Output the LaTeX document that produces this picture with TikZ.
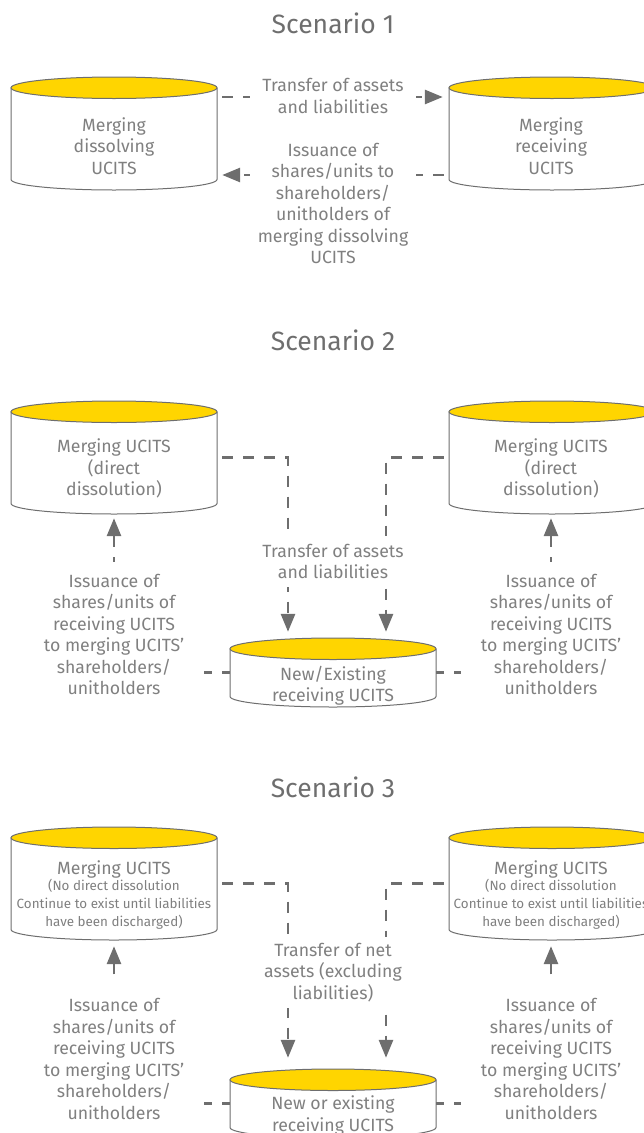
\documentclass[tikz,border=0pt]{standalone}
\usepackage{fontspec}
\setmainfont{Fira Sans}
\usetikzlibrary{arrows.meta,calc}
\definecolor{ink}{HTML}{808080}
\definecolor{rule}{HTML}{6E6E6E}
\definecolor{lid}{HTML}{FFD500}
\newcommand{\sm}{\fontsize{13.4}{17.5}\selectfont}
\tikzset{
 x=1pt,y=-1pt,
 ttl/.style={text=rule,font=\fontsize{26.5}{30}\selectfont,inner sep=0pt},
 txt/.style={text=ink,align=center,font=\fontsize{17.7}{21.5}\selectfont,inner sep=0pt},
 cover/.style={txt,fill=white},
 cylbox/.style={inner sep=0pt,minimum width=206pt,minimum height=#1},
 link/.style={draw=rule,line width=2.8pt,dash pattern=on 11pt off 10pt},
 stub/.style={draw=rule,line width=2.8pt,dash pattern=on 8pt off 10pt},
 linkhead/.style={link,-{Triangle[length=18pt,width=14pt]}},
 uphead/.style={draw=rule,line width=2.8pt,dash pattern=on 11pt off 10pt,dash phase=6pt,-{Triangle[length=18pt,width=14pt]}},
}
% name, cx, top, bottom
\newcommand{\ucyl}[4]{%
 \pgfmathsetmacro{\xl}{#2-103}\pgfmathsetmacro{\xr}{#2+103}%
 \pgfmathsetmacro{\yc}{#3+10.75}\pgfmathsetmacro{\ys}{#4-10.5}\pgfmathsetmacro{\ym}{(#3+#4)/2}%
 \pgfmathsetmacro{\hh}{#4-#3}%
 \draw[rule,line width=1pt,fill=white] (\xl,\yc) -- (\xl,\ys) .. controls (\xl,\ys+5.8) and (#2-57,#4) .. (#2,#4) .. controls (#2+57,#4) and (\xr,\ys+5.8) .. (\xr,\ys) -- (\xr,\yc);
 \draw[rule,line width=1pt,fill=lid] (#2,\yc) ellipse [x radius=103pt,y radius=10.75pt];
 \node[cylbox=\hh pt] (#1) at (#2,\ym) {};
}
\begin{document}
\begin{tikzpicture}
\useasboundingbox (0,0) rectangle (644,1133);
\clip (0,0) rectangle (644,1133);
% Scenario 1
\node[ttl] (t1) at (333,23.5) {Scenario 1};
\ucyl{a1}{114}{77}{190}
\ucyl{b1}{552}{77}{190}
\node[txt] (a1t) at (114,146) {Merging\\dissolving\\UCITS};
\node[txt] (b1t) at (551,146) {Merging\\receiving\\UCITS};
\draw[linkhead,shorten <=5pt,shorten >=6pt] ([yshift=36.5pt]a1.east) -- ([yshift=36.5pt]b1.west);
\draw[linkhead,shorten <=5pt,shorten >=5pt] ([yshift=-41.5pt]b1.west) -- ([yshift=-41.5pt]a1.east);
\node[cover,inner xsep=12pt,inner ysep=0pt] (m1) at (333,96) {Transfer of assets\\and liabilities};
\node[cover,inner xsep=8pt,inner ysep=0pt] (m2) at (333,203.5) {Issuance of\\shares/units to\\shareholders/\\unitholders of\\merging dissolving\\UCITS};
% Scenario 2
\node[ttl] (t2) at (333,340.5) {Scenario 2};
\ucyl{a2}{114}{401}{514}
\ucyl{b2}{552}{401}{514}
\ucyl{c2}{333}{638}{707}
\node[txt] (a2t) at (114,468.5) {Merging UCITS\\(direct\\dissolution)};
\node[txt] (b2t) at (551,468.5) {Merging UCITS\\(direct\\dissolution)};
\node[txt] (c2t) at (333,685.5) {New/Existing\\receiving UCITS};
\draw[linkhead,shorten <=5pt,shorten >=6pt] (a2.east) -| ([xshift=-45pt]c2.north);
\draw[linkhead,shorten <=5pt,shorten >=6pt] (b2.west) -| ([xshift=53pt]c2.north);
\node[cover,inner xsep=6pt,inner ysep=8pt] (m3) at (333,561.5) {Transfer of assets\\and liabilities};
\node[txt,inner xsep=20pt,inner ysep=12pt] (l2) at (114,634.5) {Issuance of\\shares/units of\\receiving UCITS\\to merging UCITS'\\shareholders/\\unitholders};
\node[txt,inner xsep=20pt,inner ysep=12pt] (r2) at (551,634.5) {Issuance of\\shares/units of\\receiving UCITS\\to merging UCITS'\\shareholders/\\unitholders};
\draw[uphead,shorten >=4pt] (l2.north) -- (a2.south);
\draw[uphead,shorten >=4pt] (r2.north) -- ([xshift=-1pt]b2.south);
\draw[stub] (c2.west) -- (c2.west -| l2.east);
\draw[stub] (c2.east) -- (c2.east -| r2.west);
% Scenario 3
\node[ttl] (t3) at (333,787.5) {Scenario 3};
\ucyl{a3}{114}{827}{940}
\ucyl{b3}{552}{827}{940}
\ucyl{c3}{333}{1069}{1138}
\node[txt] (a3t) at (114,895) {Merging UCITS\\[-5pt]\sm (No direct dissolution\\[-3.5pt]\sm Continue to exist until liabilities\\[-3.5pt]\sm have been discharged)};
\node[txt] (b3t) at (551,895) {Merging UCITS\\[-5pt]\sm (No direct dissolution\\[-3.5pt]\sm Continue to exist until liabilities\\[-3.5pt]\sm have been discharged)};
\node[txt] (c3t) at (333,1115.5) {New or existing\\receiving UCITS};
\draw[linkhead,shorten <=5pt,shorten >=11pt] (a3.east) -| ([xshift=-45pt]c3.north);
\draw[linkhead,shorten <=5pt,shorten >=11pt] (b3.west) -| ([xshift=53pt]c3.north);
\node[cover,inner xsep=6pt,inner ysep=6pt] (m4) at (333,972.5) {Transfer of net\\assets (excluding\\liabilities)};
\node[txt,inner xsep=20pt,inner ysep=24pt] (l3) at (114,1059) {Issuance of\\shares/units of\\receiving UCITS\\to merging UCITS'\\shareholders/\\unitholders};
\node[txt,inner xsep=20pt,inner ysep=24pt] (r3) at (551,1059) {Issuance of\\shares/units of\\receiving UCITS\\to merging UCITS'\\shareholders/\\unitholders};
\draw[linkhead,shorten >=6pt] (l3.north) -- (a3.south);
\draw[linkhead,shorten >=6pt] (r3.north) -- ([xshift=-1pt]b3.south);
\draw[stub] (c3.west) -- (c3.west -| l3.east);
\draw[stub] (c3.east) -- (c3.east -| r3.west);
\end{tikzpicture}
\end{document}
